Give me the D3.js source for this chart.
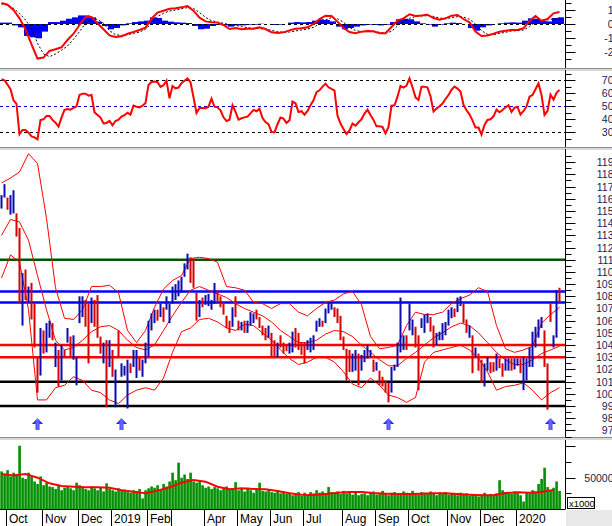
<!DOCTYPE html>
<html><head><meta charset="utf-8">
<script src="https://cdn.jsdelivr.net/npm/d3@7/dist/d3.min.js"></script>
<style>body{margin:0;background:#fff}svg{display:block;font-family:"Liberation Sans",Arial,sans-serif}</style>
</head><body>
<svg id="c" width="612" height="526"></svg>
<script>
// ---------- DATA ----------
const highs = [116.3,117.2,116.1,116.3,116.7,114.8,113.6,109.9,110.2,108.8,109.1,107.4,103.0,105.4,105.2,105.8,106.0,105.8,104.2,103.6,104.0,103.6,105.4,104.7,104.8,103.0,108.0,108.0,107.7,107.4,107.9,107.7,108.1,104.7,104.2,104.4,104.4,103.6,102.0,105.2,102.5,102.3,102.8,102.5,103.6,103.6,103.0,102.8,104.2,106.0,106.6,106.9,106.9,107.4,107.1,108.0,107.4,108.8,109.0,109.3,109.6,110.7,111.5,111.2,111.0,108.3,107.7,107.9,108.1,108.2,107.7,109.1,108.5,108.0,107.5,106.4,106.0,107.1,108.0,106.0,105.9,106.0,106.0,106.7,106.6,106.9,106.3,105.6,105.4,105.6,105.0,104.4,104.2,104.8,104.2,104.0,104.2,105.1,105.4,105.0,104.2,104.2,104.4,104.6,104.8,106.0,106.2,106.0,107.0,107.5,107.5,107.1,107.0,106.4,104.7,103.7,103.6,103.3,103.6,103.3,103.2,103.6,104.0,103.6,102.8,102.6,101.9,101.4,101.1,100.9,102.2,102.4,104.2,107.9,104.8,104.8,107.4,106.1,105.5,104.8,106.2,106.5,106.6,106.3,105.6,105.0,105.1,105.8,105.9,106.9,107.1,107.0,107.9,108.0,107.4,106.1,105.6,104.8,103.8,103.3,102.8,102.5,103.0,102.6,102.6,103.3,102.9,102.5,102.9,102.9,102.9,102.9,102.9,102.9,103.0,102.9,103.8,105.1,105.5,106.1,106.3,105.2,102.5,107.4,104.8,108.5,108.7];
const lows = [115.2,116.1,115.1,114.7,114.8,112.9,107.4,105.6,107.7,107.5,106.1,103.8,100.1,101.5,103.3,103.4,104.6,104.4,102.2,100.6,101.1,103.0,104.2,103.0,102.8,100.7,105.8,106.3,105.5,102.5,105.8,105.5,104.6,103.3,102.5,98.9,102.2,101.4,98.9,103.0,101.4,101.5,98.8,101.7,102.2,101.3,101.9,101.4,102.5,103.0,105.2,105.8,106.0,106.3,105.9,106.9,105.8,107.4,107.7,108.0,108.3,109.6,110.2,109.1,108.7,106.0,106.3,107.1,107.3,107.2,106.9,107.4,107.5,107.1,106.5,105.4,105.0,105.5,106.3,105.2,105.2,105.0,105.0,105.6,105.8,106.1,105.4,104.8,104.4,104.6,103.0,103.0,103.0,103.8,103.3,103.5,103.3,103.4,103.8,103.6,103.2,102.5,103.6,103.4,103.6,105.1,105.5,105.5,105.8,106.6,106.9,106.3,105.8,104.4,103.6,101.1,101.8,101.8,101.9,100.7,101.9,102.6,102.9,103.0,101.8,101.9,100.7,100.6,100.1,99.3,100.1,101.9,102.2,103.4,103.6,103.6,105.2,104.8,103.8,100.3,105.4,105.0,105.8,105.1,103.8,104.0,104.4,104.4,104.8,105.6,106.2,106.3,106.7,107.2,105.8,105.0,104.6,101.7,103.0,101.9,100.9,100.6,101.9,101.7,101.8,101.9,102.1,101.4,101.9,101.9,101.9,102.0,102.3,101.7,100.3,101.1,102.2,102.2,103.8,104.6,105.4,102.2,98.7,105.9,103.8,104.6,107.5];
const upBar = [1,1,0,1,1,0,0,1,0,1,0,0,0,1,0,1,1,0,1,0,1,0,1,0,1,1,1,1,0,0,1,0,0,0,1,0,1,0,1,0,1,1,1,0,1,1,0,1,1,1,1,1,0,1,0,1,1,1,1,1,1,1,1,0,0,0,1,0,1,1,1,1,0,0,0,0,0,1,0,0,1,0,1,1,1,0,0,0,0,1,0,0,1,0,0,0,1,1,0,0,0,0,1,1,1,1,1,0,1,1,1,0,0,0,0,0,0,1,1,0,1,1,1,1,0,1,0,0,0,0,1,1,1,1,1,0,1,1,0,0,1,1,1,0,0,1,1,1,1,1,1,0,1,1,0,0,1,0,1,0,0,1,1,0,0,1,0,0,1,1,0,1,1,0,1,1,1,1,1,1,1,0,0,0,1,1,0];
const volume = [60,55,62,52,58,56,101,50,48,58,52,44,40,52,38,42,36,35,32,38,30,34,36,33,30,42,38,35,32,30,36,33,30,34,28,41,32,30,28,33,29,31,27,26,30,28,32,17,30,33,36,34,38,32,40,36,44,58,46,74,50,55,48,58,44,42,46,38,34,36,32,35,33,30,34,36,31,33,43,30,32,28,34,30,26,32,42,29,28,31,27,26,30,25,28,24,26,22,23,27,21,26,24,27,25,30,26,28,25,35,27,26,28,24,29,25,27,23,26,22,24,25,22,26,28,23,25,29,24,22,26,27,25,23,28,26,24,29,25,23,27,26,24,28,25,22,26,24,27,23,25,24,22,26,23,25,21,24,22,20,23,26,22,24,21,25,46,30,27,25,24,28,26,22,12,27,25,30,28,40,48,66,35,30,34,44,29];
const bbStride = 3;
const bbUpper = [117.3,117.7,118.2,119.7,118.9,114.4,108.7,106.2,106.1,106.9,108.8,108.8,108.9,108.3,105.2,104.2,105.2,107.1,108.6,109.3,109.7,111.1,111.2,111.1,110.8,108.8,108.7,108.5,107.5,107.4,107.0,107.4,107.4,106.7,106.4,107.0,107.5,107.7,108.2,108.4,107.3,104.7,103.7,103.8,104.0,105.6,106.7,106.5,106.5,106.7,107.4,107.8,108.1,108.7,108.4,105.6,103.7,103.4,103.6,103.9,105.8,106.5,107.1];
const bbMiddle = [113.0,114.3,114.1,112.6,109.7,106.9,104.4,103.6,103.8,104.4,105.1,105.5,105.6,105.2,104.4,103.8,103.6,104.0,105.2,106.4,107.5,108.5,108.8,108.5,108.2,107.9,107.4,107.0,106.7,106.4,105.9,105.2,104.7,104.2,104.2,104.4,104.9,105.2,105.1,104.7,104.0,103.4,102.8,102.3,102.3,102.9,103.4,104.0,104.6,105.0,105.5,105.8,105.6,105.0,104.2,103.4,102.8,102.4,102.4,102.8,103.3,103.6,103.9];
const bbLower = [109.5,111.4,110.8,106.9,99.5,99.5,100.5,100.7,101.4,101.1,100.3,100.1,99.5,99.2,99.9,100.3,100.5,100.3,101.3,103.4,105.1,105.4,106.1,106.2,105.9,105.4,105.2,105.7,105.6,105.0,104.4,103.6,102.9,102.4,102.6,103.0,103.0,102.6,101.8,100.8,100.5,101.3,100.7,99.9,99.7,99.3,99.7,102.6,103.4,103.6,103.8,104.0,103.6,102.9,101.8,100.3,100.6,100.7,100.9,100.3,99.5,100.1,100.5];
const levelValues = [111, 108.4, 107.5, 104, 103, 101, 99];
const levelColors = ["#005500","#0000ff","#0000ff","#ff0000","#ff0000","#000000","#000000"];
const arrowBars = [12, 40, 129, 183];
// RSI, one value per bar
const rsi = [70.8,70,66.7,63.1,54.6,51.8,28.5,31.8,31.8,29.7,26.9,26.1,24.6,39.4,40,42.6,42.6,39.5,37.4,34.4,41.3,47.2,47.9,47.4,48.7,50,58.7,59.7,59.7,58.2,58.7,45.4,43.3,41.3,36.9,37.2,38.7,35.4,38.7,39.7,42.1,43.1,45.1,43.6,50.5,49.7,49.2,50.5,52.6,66.4,68.7,69,68.5,64.9,66.2,69.7,56.2,65.6,63.8,64.4,67.7,69.7,71.5,68.5,56.9,44.9,48.7,48.7,48.5,49.7,55.9,49.7,49.2,46.9,41.5,38.7,39.7,50.8,45.9,39.7,40.8,41.5,42.1,44.6,47.2,46.2,48.2,41,37.9,36.2,30.3,30,36.2,41.3,40.5,37.2,39.2,53.6,52.3,45.6,46.2,43.6,46.4,50.8,54.6,60.8,62.3,65.1,67.4,64.6,63.3,62.1,42.8,36.7,32.6,28.7,31.5,36.7,35.1,37.7,40,44.4,47.4,43.3,39.5,34.6,34.6,34.1,29.2,34.1,50.5,50.8,57.4,65.6,64.4,65.9,71.5,64.6,56.9,54.9,65.1,65.1,64.4,57.7,46,48.2,50,52.1,55.6,58.7,62.6,65.1,63.6,61.3,51.3,46.9,43.8,39.2,33.6,33.6,28.2,35.6,39.5,40,42.3,47.4,45.4,47.2,49.2,50.8,45.6,48.9,49.5,43.6,46.4,49.7,57.4,58.7,63.1,67.7,58.7,43.3,46.4,59,55.1,60.3,62.6];
const rsiTicks = [30,40,50,60,70];
const macdStride = 2;
const macd = [1.51,1.39,1.01,0.41,-0.38,-1.46,-2.49,-2.42,-1.94,-1.82,-1.68,-1.15,-0.70,-0.07,0.50,0.50,0.05,-0.38,-0.82,-0.94,-0.89,-0.70,-0.58,-0.43,-0.26,0.38,0.82,0.96,1.10,1.13,1.20,1.29,0.96,0.46,0.19,0.12,0.10,-0.07,-0.36,-0.29,-0.38,-0.34,-0.34,-0.24,-0.36,-0.60,-0.65,-0.60,-0.46,-0.34,-0.31,-0.24,0,0.36,0.60,0.58,0.17,-0.29,-0.58,-0.67,-0.55,-0.50,-0.53,-0.67,-0.67,-0.22,0.24,0.41,0.70,0.58,0.62,0.67,0.43,0.31,0.41,0.60,0.65,0.36,0.12,-0.55,-0.86,-0.82,-0.70,-0.55,-0.48,-0.43,-0.43,-0.31,0.22,0.58,0.24,0.36,0.77,0.86];
const macdSignal = [1.45,1.37,1.13,0.77,0.29,-0.31,-1.39,-2.16,-2.35,-2.16,-1.89,-1.58,-1.10,-0.55,0.05,0.36,0.34,0.05,-0.48,-0.77,-0.82,-0.77,-0.67,-0.58,-0.38,0.05,0.53,0.77,0.94,1.01,1.10,1.18,1.13,0.82,0.48,0.24,0.14,0.05,-0.05,-0.10,-0.19,-0.26,-0.31,-0.34,-0.36,-0.46,-0.55,-0.60,-0.58,-0.50,-0.43,-0.36,-0.24,0,0.29,0.46,0.38,0.12,-0.24,-0.46,-0.55,-0.55,-0.55,-0.60,-0.65,-0.53,-0.14,0.17,0.41,0.53,0.58,0.60,0.55,0.43,0.38,0.46,0.53,0.50,0.34,0,-0.48,-0.74,-0.77,-0.67,-0.60,-0.50,-0.48,-0.43,-0.19,0.17,0.29,0.29,0.38,0.43];
const macdHist = [0.10,0.10,-0.10,-0.24,-0.86,-0.96,-1.03,-0.55,0.14,0.14,0.24,0.38,0.48,0.62,0.62,0.48,0.17,-0.14,-0.38,-0.29,-0.10,0.05,0.14,0.19,0.24,0.48,0.43,0.24,0.17,0.12,0.10,0.07,-0.14,-0.38,-0.34,-0.14,-0.05,-0.10,-0.19,-0.10,-0.10,-0.05,-0.05,0.02,0,-0.07,-0.05,0,0.10,0.14,0.12,0.14,0.24,0.34,0.29,0.19,-0.19,-0.38,-0.29,-0.19,-0.10,-0.05,-0.07,-0.10,-0.05,0.14,0.34,0.38,0.34,0.19,0.05,-0.05,-0.19,-0.05,0.05,0.10,0.07,0,-0.29,-0.48,-0.24,-0.10,0,0.05,0.10,0.12,0.10,0.24,0.41,0.38,0.24,0.19,0.43,0.48];
const macdTicks = [-2,-1,0,1];
const volMaStride = 4;
const volMa = [55.9,53.7,55.9,50.0,41.0,36.7,35.6,34.6,34.6,34.0,29.8,27.7,25.0,29.3,34.6,42.0,46.3,43.6,35.6,31.4,33.0,31.9,31.4,28.7,25.0,22.9,22.3,23.9,26.1,27.1,27.1,25.5,24.5,23.9,23.9,24.5,25.0,25.0,23.9,22.9,21.8,21.8,25.5,26.6,26.1,27.1,30.3];
const monthStart = [2,14,26,37,49,57,68,79,90,101,114,125,136,149,160,172];
const monthLabels = ["Oct","Nov","Dec","2019","Feb","","Apr","May","Jun","Jul","Aug","Sep","Oct","Nov","Dec","2020"];
const priceTicks = d3.range(97,120);

// ---------- DRAW ----------
const svg = d3.select("#c");
const AX = 565.5;
const x = d3.scaleLinear().domain([0,186]).range([1.5,559.5]);
const yM = d3.scaleLinear().domain([-3.17,1.73]).range([68,0]);
const yR = d3.scaleLinear().domain([18.7,77.9]).range([147,70]);
const yP = d3.scaleLinear().domain([96.5,120.1]).range([436.5,148.8]);
const yV = d3.scaleLinear().domain([0,110.2]).range([509,440]);

svg.append("rect").attr("width",612).attr("height",526).attr("fill","#fff");
const defs = svg.append("defs");
[["cM",0,68],["cR",70,147],["cP",149,437],["cV",440,509]].forEach(([id,a,b])=>{
  defs.append("clipPath").attr("id",id).append("rect").attr("x",0).attr("y",a).attr("width",AX).attr("height",b-a);
});
const grad = defs.append("linearGradient").attr("id","ag").attr("x1","0").attr("x2","1");
grad.append("stop").attr("offset","0").attr("stop-color","#0000f0");
grad.append("stop").attr("offset","0.5").attr("stop-color","#6a6aff");
grad.append("stop").attr("offset","1").attr("stop-color","#0000f0");

// MACD
const gM = svg.append("g").attr("clip-path","url(#cM)");
gM.selectAll("rect.h").data(macdHist).join("rect")
  .attr("x",(d,k)=>x(k*macdStride)-1.5).attr("width",6)
  .attr("y",d=>Math.min(yM(d),yM(0))).attr("height",d=>Math.abs(yM(d)-yM(0)))
  .attr("fill","#0000ff");
gM.append("line").attr("x1",0).attr("x2",AX).attr("y1",yM(0)+0.5).attr("y2",yM(0)+0.5)
  .attr("stroke","#000").attr("stroke-dasharray","3,3");
gM.append("path").datum(macdSignal).attr("fill","none").attr("stroke","#000").attr("stroke-width",1)
  .attr("stroke-dasharray","2,2").attr("d",d3.line().x((d,k)=>x(k*macdStride)).y(d=>yM(d)));
gM.append("path").datum(macd).attr("fill","none").attr("stroke","#ff0000").attr("stroke-width",2)
  .attr("d",d3.line().x((d,k)=>x(k*macdStride)).y(d=>yM(d)));

// RSI
const gR = svg.append("g").attr("clip-path","url(#cR)");
[[70,"#000"],[50,"#0000cc"],[30,"#000"]].forEach(([v,c])=>{
  gR.append("line").attr("x1",0).attr("x2",AX).attr("y1",Math.round(yR(v))+0.5).attr("y2",Math.round(yR(v))+0.5)
    .attr("stroke",c).attr("stroke-dasharray","3,3");
});
gR.append("path").datum(rsi).attr("fill","none").attr("stroke","#ff0000").attr("stroke-width",2)
  .attr("d",d3.line().x((d,i)=>x(i)).y(d=>yR(d)));

// Price
const gP = svg.append("g").attr("clip-path","url(#cP)");
levelValues.forEach((v,k)=>{
  gP.append("line").attr("x1",0).attr("x2",AX).attr("y1",yP(v)).attr("y2",yP(v))
    .attr("stroke",levelColors[k]).attr("stroke-width",2.5);
});
[bbUpper,bbMiddle,bbLower].forEach(arr=>{
  gP.append("path").datum(arr).attr("fill","none").attr("stroke","#ff0000").attr("stroke-width",1)
    .attr("d",d3.line().x((d,k)=>x(k*bbStride)).y(d=>yP(d)));
});
gP.selectAll("rect.b").data(highs).join("rect")
  .attr("x",(d,i)=>x(i)-1).attr("width",2)
  .attr("y",(d,i)=>yP(highs[i])).attr("height",(d,i)=>Math.max(1,yP(lows[i])-yP(highs[i])))
  .attr("fill",(d,i)=>upBar[i]?"#0c0cb0":"#d80000");
gP.selectAll("path.arrow").data(arrowBars).join("path")
  .attr("d",i=>{const cx=x(i);return `M${cx},418 L${cx+5.5},424 L${cx+2},424 L${cx+2},430 L${cx-2},430 L${cx-2},424 L${cx-5.5},424 Z`;})
  .attr("fill","url(#ag)");

// Volume
const gV = svg.append("g").attr("clip-path","url(#cV)");
gV.selectAll("rect.v").data(volume).join("rect")
  .attr("x",(d,i)=>x(i)-1.2).attr("width",2.6)
  .attr("y",d=>yV(d)).attr("height",d=>yV(0)-yV(d)).attr("fill","#009000");
gV.append("path").datum(volMa).attr("fill","none").attr("stroke","#ff0000").attr("stroke-width",2)
  .attr("d",d3.line().x((d,k)=>x(k*volMaStride)).y(d=>yV(d)));

// separators
[68,147,437].forEach(y=>{
  svg.append("rect").attr("x",0).attr("y",y).attr("width",612).attr("height",1).attr("fill","#8c8c8c");
  svg.append("rect").attr("x",0).attr("y",y+1).attr("width",612).attr("height",2).attr("fill","#d8d8d8");
});

// right axes
function rightAxis(scale, major, minor, fmt, top, bottom){
  const g = svg.append("g").attr("transform",`translate(${AX},0)`);
  g.append("line").attr("x1",0).attr("x2",0).attr("y1",top).attr("y2",bottom).attr("stroke","#000");
  g.selectAll("line.mi").data(minor).join("line").attr("x1",0).attr("x2",6)
    .attr("y1",d=>Math.round(scale(d))+0.5).attr("y2",d=>Math.round(scale(d))+0.5).attr("stroke","#000");
  g.selectAll("line.ma").data(major).join("line").attr("x1",0).attr("x2",10)
    .attr("y1",d=>Math.round(scale(d))+0.5).attr("y2",d=>Math.round(scale(d))+0.5).attr("stroke","#000");
  g.selectAll("text").data(major.filter(d=>fmt(d)!=="")).join("text")
    .attr("x",48).attr("y",d=>scale(d)+4).attr("text-anchor","end")
    .attr("font-size",10.5).attr("fill","#222255").text(fmt);
}
rightAxis(yM, macdTicks, [-2.5,-1.5,-0.5,0.5,1.5], d=>String(d), 0, 68);
rightAxis(yR, rsiTicks, [25,35,45,55,65,75], d=>String(d), 70, 147);
rightAxis(yP, priceTicks, priceTicks.map(d=>d+0.5).concat([96.5]), d=>String(d), 149, 437);
rightAxis(yV, [50,100], [25,75], d=>d===50?"50000":"", 440, 509);

svg.append("rect").attr("x",567.5).attr("y",497.5).attr("width",27).attr("height",11).attr("fill","#fff").attr("stroke","#000");
svg.append("text").attr("x",569).attr("y",506.5).attr("font-size",9.5).attr("fill","#000").text("x1000");

// time axis
svg.append("rect").attr("x",AX+0.5).attr("y",510).attr("width",612-AX).attr("height",16).attr("fill","#e8e8e8");
svg.append("line").attr("x1",0).attr("x2",AX).attr("y1",509.5).attr("y2",509.5).attr("stroke","#000");
const gX = svg.append("g");
gX.selectAll("line").data(monthStart).join("line")
  .attr("x1",d=>Math.round(x(d)-1.5)+0.5).attr("x2",d=>Math.round(x(d)-1.5)+0.5)
  .attr("y1",509).attr("y2",526).attr("stroke","#000");
gX.selectAll("text").data(monthStart).join("text")
  .attr("x",d=>x(d)+1.5).attr("y",523).attr("font-size",12).attr("fill","#000")
  .text((d,k)=>monthLabels[k]);
</script>
</body></html>
